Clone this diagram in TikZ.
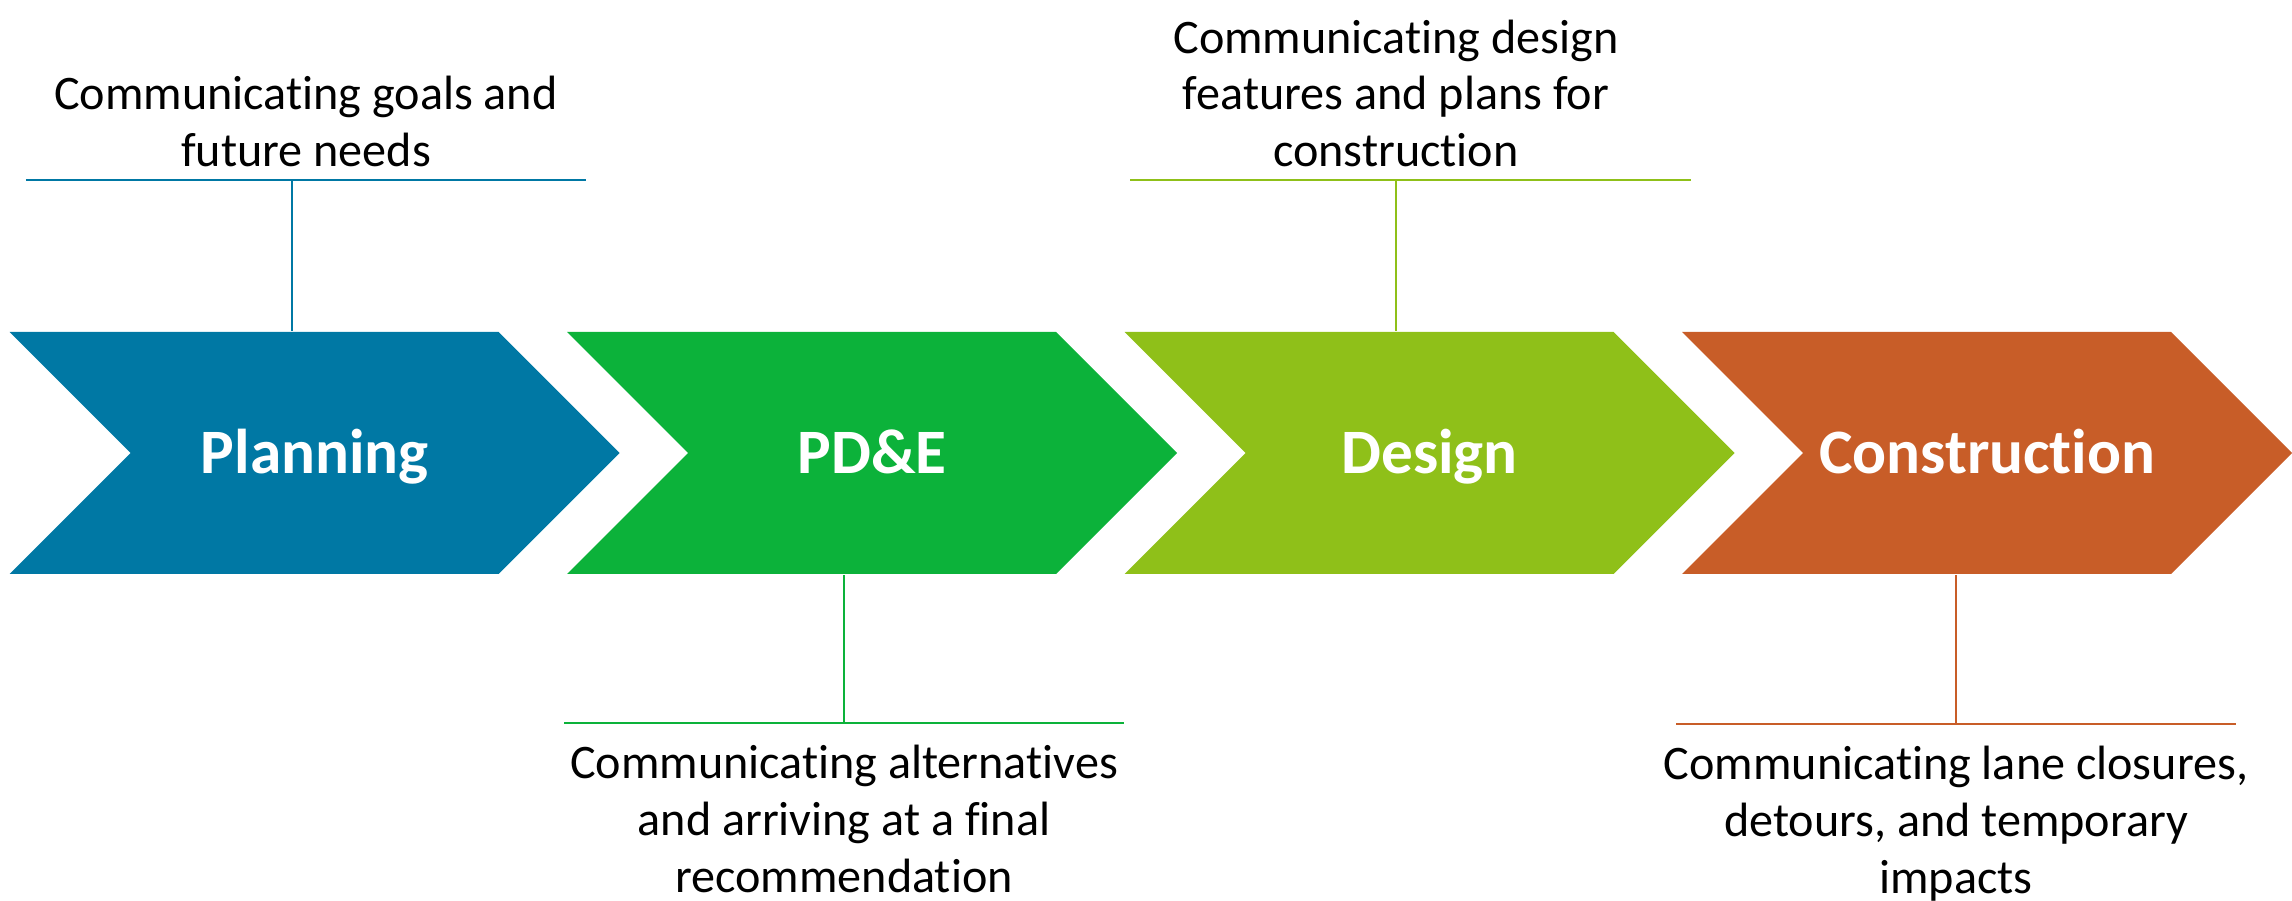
\documentclass[tikz,border=0pt]{standalone}
\usepackage{fontspec}
\setmainfont{Carlito}[Ligatures=NoCommon]
\usetikzlibrary{shapes.symbols}

\definecolor{planblue}{RGB}{0,120,164}
\definecolor{pdegreen}{RGB}{12,178,58}
\definecolor{designgreen}{RGB}{143,192,25}
\definecolor{constrorange}{RGB}{200,93,40}

\tikzset{
  chev/.style={signal, signal from=west, signal to=east, signal pointer angle=90,
    minimum width=6.1cm, minimum height=2.42cm, inner sep=0pt, anchor=center,
    text height=11.6pt, text depth=0pt,
    fill=#1, text=white, font=\fontsize{18}{22}\selectfont\bfseries},
  note/.style={align=center, inner xsep=0pt,
    font=\fontsize{13.7}{16.2}\selectfont},
  tick/.style={draw=#1, line width=0.7pt},
}

\begin{document}
\begin{tikzpicture}
\useasboundingbox (0,0) rectangle (22.92,9.01);
\matrix (m) [column sep=-0.525cm, inner sep=0pt, anchor=west] at (0.09,4.48)
{
	\node[chev=planblue] (plan) {Planning}; & \node[chev=pdegreen] (pde) {PD\&E}; &
	\node[chev=designgreen] (design) {Design}; & \node[chev=constrorange] (constr) {Construction};\\
};
\node[note, anchor=south, inner ysep=0.12cm] (goals) at (3.06,7.21) {Communicating goals and\\future needs};
\node[note, anchor=south, inner ysep=0.12cm] (features) at (13.96,7.21) {Communicating design\\features and plans for\\construction};
\node[note, anchor=north, inner ysep=0.21cm] (alts) at (8.44,1.78) {Communicating alternatives\\and arriving at a final\\recommendation};
\node[note, anchor=north, inner ysep=0.21cm] (closures) at (19.56,1.77) {Communicating lane closures,\\detours, and temporary\\impacts};
\path (goals.south) ++(-0.14,0) coordinate (goalsfoot);
\draw[tick=planblue] ([xshift=-2.8cm]goals.south) -- ([xshift=2.8cm]goals.south);
\draw[tick=planblue] (goalsfoot) -- (goalsfoot |- plan.north);
\draw[tick=pdegreen] ([xshift=-2.8cm]alts.north) -- ([xshift=2.8cm]alts.north);
\draw[tick=pdegreen] (alts.north) -- (alts.north |- pde.south);
\draw[tick=designgreen] ([xshift=-2.66cm]features.south) -- ([xshift=2.95cm]features.south);
\draw[tick=designgreen] (features.south) -- (features.south |- design.north);
\draw[tick=constrorange] ([xshift=-2.8cm]closures.north) -- ([xshift=2.8cm]closures.north);
\draw[tick=constrorange] (closures.north) -- (closures.north |- constr.south);
\end{tikzpicture}
\end{document}
